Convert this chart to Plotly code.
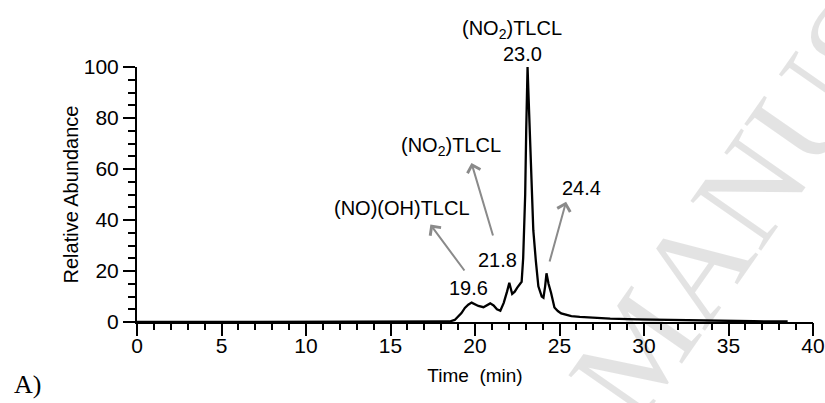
import plotly.graph_objects as go

# Chromatogram data (time in min, relative abundance %)
time_min = [0, 5, 10, 15, 18.0, 18.5, 18.8, 19.0, 19.2, 19.4, 19.6, 19.8, 20.0, 20.2, 20.5,
            20.7, 20.9, 21.1, 21.3, 21.5, 21.7, 21.9, 22.03, 22.2, 22.35, 22.5, 22.65, 22.76,
            22.85, 22.92, 22.97, 23.03, 23.08, 23.11, 23.15, 23.22, 23.3, 23.45, 23.6, 23.75,
            23.95, 24.05, 24.15, 24.23, 24.35, 24.5, 24.7, 24.9, 25.1, 25.4, 25.7, 26.2, 27.0,
            28.0, 29.6, 31.0, 32.5, 34.5, 36.5, 38.5]
abundance = [0, 0, 0, 0, 0, 0.2, 0.8, 2.0, 3.5, 5.5, 6.8, 7.6, 7.0, 6.3, 5.8,
             6.5, 7.3, 6.5, 5.0, 4.4, 7.5, 12.0, 15.4, 11.0, 11.9, 13.5, 15.0, 15.8,
             25.0, 36.0, 50.0, 75.0, 94.0, 100.0, 92.0, 78.0, 58.0, 36.0, 24.0, 14.0,
             10.0, 9.5, 14.0, 19.1, 15.0, 11.5, 5.7, 4.3, 3.4, 2.8, 2.3, 2.0, 1.6,
             1.3, 1.0, 0.8, 0.6, 0.5, 0.3, 0.2]

# Peak labels inside the plot (text, x, y in data units)
label_texts = ["(NO<sub>2</sub>)TLCL", "(NO)(OH)TLCL", "19.6", "21.8", "24.4"]
label_x = [18.56, 15.67, 19.62, 21.33, 26.33]
label_y = [69.0, 44.7, 13.3, 24.3, 52.5]

# Labels above the main peak (x in data units, y in paper units)
top_texts = ["(NO<sub>2</sub>)TLCL", "23.0"]
top_x = [22.21, 22.80]
top_y = [1.149, 1.051]

# Arrows: tail -> head
arrow_tail_x = [19.44, 21.09, 24.39]
arrow_tail_y = [19.6, 33.3, 23.1]
arrow_head_x = [17.36, 19.79, 25.39]
arrow_head_y = [38.2, 62.4, 47.2]

FONT = "Liberation Sans, Arial, sans-serif"
SERIF = "Liberation Serif, Times New Roman, serif"
LABEL_SIZE = 20

fig = go.Figure()
fig.add_trace(go.Scatter(x=time_min, y=abundance, mode="lines",
                         line=dict(color="black", width=2.3), cliponaxis=False,
                         showlegend=False, hoverinfo="skip"))
# invisible trace so the tick-only overlay axis is drawn
fig.add_trace(go.Scatter(x=time_min, y=abundance, xaxis="x2", mode="lines", opacity=0,
                         line=dict(width=0), showlegend=False, hoverinfo="skip"))

annotations = []
for t, x, y in zip(label_texts, label_x, label_y):
    annotations.append(dict(x=x, y=y, xref="x", yref="y", text=t, showarrow=False,
                            font=dict(family=FONT, size=LABEL_SIZE, color="black"),
                            xanchor="center", yanchor="middle"))
for t, x, y in zip(top_texts, top_x, top_y):
    annotations.append(dict(x=x, y=y, xref="x", yref="paper", text=t, showarrow=False,
                            font=dict(family=FONT, size=LABEL_SIZE, color="black"),
                            xanchor="center", yanchor="middle"))
for tx, ty, hx, hy in zip(arrow_tail_x, arrow_tail_y, arrow_head_x, arrow_head_y):
    annotations.append(dict(x=hx, y=hy, ax=tx, ay=ty, xref="x", yref="y", axref="x", ayref="y",
                            text="", showarrow=True, arrowhead=4, arrowsize=1.3,
                            arrowwidth=2, arrowcolor="#8a8a8a", standoff=0, startstandoff=0))
# panel label
annotations.append(dict(x=-0.162, y=-0.247, xref="paper", yref="paper", text="A)", showarrow=False,
                        font=dict(family=SERIF, size=26, color="black"),
                        xanchor="center", yanchor="middle"))
# faint watermark
annotations.append(dict(x=0.889, y=0.451, xref="paper", yref="paper", text="MANUS", showarrow=False,
                        textangle=-55,
                        font=dict(family=SERIF, size=132, color="rgba(0,0,0,0.11)"),
                        xanchor="center", yanchor="middle"))

fig.update_layout(
    width=825, height=403,
    margin=dict(l=137, r=12, t=67, b=81),
    paper_bgcolor="white", plot_bgcolor="white",
    font=dict(family=FONT, color="black"),
    annotations=annotations,
    xaxis=dict(range=[0, 40], tickmode="linear", tick0=0, dtick=5,
               ticks="outside", ticklen=4, tickwidth=2, tickcolor="black",
               showline=True, linecolor="black", linewidth=2, automargin=False,
               showgrid=False, zeroline=False, ticklabeloverflow="allow",
               tickfont=dict(family=FONT, size=21),
               title=dict(text="Time  (min)", font=dict(family=FONT, size=19), standoff=12)),
    xaxis2=dict(overlaying="x", matches="x", anchor="y", side="bottom", automargin=False,
                tickmode="linear", tick0=0, dtick=5,
                ticks="outside", ticklen=13, tickwidth=2, tickcolor="black",
                showticklabels=False, showline=False, showgrid=False, zeroline=False,
                minor=dict(dtick=1, ticks="outside", ticklen=7, tickwidth=2, tickcolor="black")),
    yaxis=dict(range=[0, 100], tickmode="linear", tick0=0, dtick=20,
               ticks="outside", ticklen=12, tickwidth=2, tickcolor="black",
               showline=True, linecolor="black", linewidth=2, automargin=False,
               showgrid=False, zeroline=False,
               tickfont=dict(family=FONT, size=21),
               minor=dict(dtick=5, ticks="outside", ticklen=7, tickwidth=2, tickcolor="black"),
               title=dict(text="Relative Abundance", font=dict(family=FONT, size=20), standoff=0)),
)

fig.write_html("out.html")
